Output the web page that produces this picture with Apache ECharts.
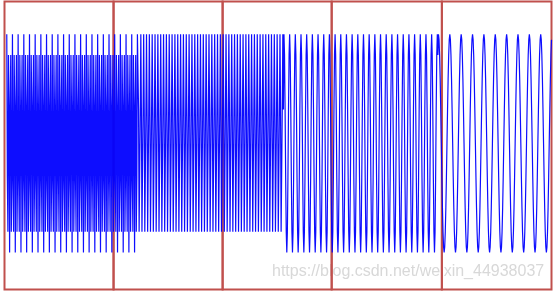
<!DOCTYPE html>
<html>
<head>
<meta charset="utf-8">
<script src="https://cdn.jsdelivr.net/npm/echarts@6/dist/echarts.min.js"></script>
<style>
  html, body { margin: 0; padding: 0; background: #ffffff; }
  #chart { width: 554px; height: 292px; }
</style>
</head>
<body>
<div id="chart"></div>
<script>
const seg1Cycle = [1, -0.31, -0.81, 0.81, 0.31, -1, 0.31, 0.81, -0.81, -0.31];
const seg2Cycle = [1, 0.31, -0.81, -0.81, 0.31];
const seg3Cycle = [1, 0.81, 0.31, -0.31, -0.81, -1, -0.81, -0.31, 0.31, 0.81];
const seg4Cycle = [1, 0.95, 0.81, 0.59, 0.31, 0, -0.31, -0.59, -0.81, -0.95,
                   -1, -0.95, -0.81, -0.59, -0.31, 0, 0.31, 0.59, 0.81, 0.95];
// Number of samples in each piece
const segLengths = [231, 257, 272, 200];
// STFT window boundaries (sample index)
const windowEdges = [-4, 188, 380, 572, 766, 959];
const watermark = 'https://blog.csdn.net/weixin_44938037';

const cycles = [seg1Cycle, seg2Cycle, seg3Cycle, seg4Cycle];
const signal = [];
let n = 0;
cycles.forEach((cyc, s) => {
  for (let k = 0; k < segLengths[s]; k++) {
    signal.push([n, cyc[k % cyc.length]]);
    n++;
  }
});

const windows = [];
for (let i = 0; i < windowEdges.length - 1; i++) {
  windows.push([{ xAxis: windowEdges[i] }, { xAxis: windowEdges[i + 1] }]);
}

const chart = echarts.init(document.getElementById('chart'), null, { renderer: 'canvas' });
chart.setOption({
  animation: false,
  backgroundColor: '#ffffff',
  grid: { left: 4.5, top: 1.5, right: 2.5, bottom: 2.5, containLabel: false },
  xAxis: { type: 'value', min: windowEdges[0], max: windowEdges[windowEdges.length - 1], show: false },
  yAxis: { type: 'value', min: -1.34, max: 1.30, show: false },
  series: [{
    type: 'line',
    data: signal,
    showSymbol: false,
    symbol: 'none',
    silent: true,
    lineStyle: { color: '#0000ff', width: 1.2, opacity: 0.95 },
    markArea: {
      silent: true,
      itemStyle: { color: 'rgba(0,0,0,0)', borderColor: '#c0504d', borderWidth: 2 },
      data: windows
    }
  }],
  graphic: [{
    type: 'text',
    x: 272,
    y: 264,
    silent: true,
    style: {
      text: watermark,
      fill: 'rgba(200,200,200,0.7)',
      font: '16px "Liberation Sans", Arial, sans-serif',
      verticalAlign: 'top'
    }
  }]
});
</script>
</body>
</html>
